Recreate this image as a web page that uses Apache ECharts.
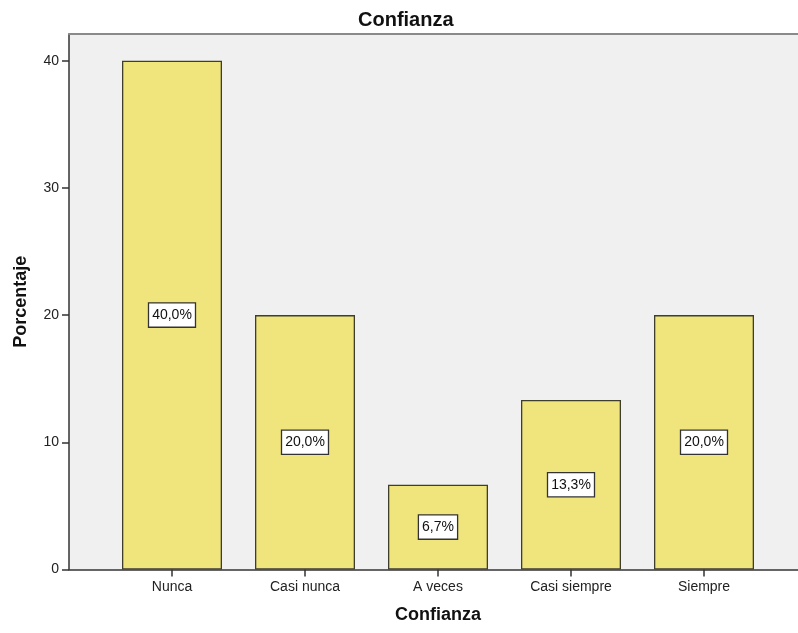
<!DOCTYPE html>
<html>
<head>
<meta charset="utf-8">
<script src="https://cdn.jsdelivr.net/npm/echarts@6/dist/echarts.min.js"></script>
<style>html,body{margin:0;padding:0;background:#fff}#c{width:798px;height:633px}</style>
</head>
<body>
<div id="c"></div>
<script>
const categories = ['Nunca', 'Casi nunca', 'A veces', 'Casi siempre', 'Siempre'];
const percentages = [40.0, 20.0, 6.67, 13.33, 20.0];
const yTicks = [0, 10, 20, 30, 40];
const chartTitle = 'Confianza';
const xName = 'Confianza';
const yName = 'Porcentaje';

const FONT = '"Liberation Sans", Arial, sans-serif';
const YMAX = 42.1;

const chart = echarts.init(document.getElementById('c'), null, {renderer: 'canvas'});
chart.setOption({
  animation: false,
  backgroundColor: '#ffffff',
  title: {
    text: chartTitle,
    left: 353, top: 5,
    textStyle: {fontFamily: FONT, fontSize: 20, fontWeight: 'bold', color: '#111'}
  },
  grid: [
    {left: 69, right: 0, top: 34, bottom: 63.5, show: true, backgroundColor: '#f0f0f0', borderWidth: 0},
    {left: 105.5, right: 27.5, top: 34, bottom: 63.5}
  ],
  xAxis: [
    {gridIndex: 0, type: 'value', min: 0, max: 1, position: 'bottom',
     axisLine: {show: true, lineStyle: {color: '#333', width: 1.5}},
     axisTick: {show: false}, axisLabel: {show: false}, splitLine: {show: false}},
    {gridIndex: 0, type: 'value', min: 0, max: 1, position: 'top',
     axisLine: {show: true, lineStyle: {color: '#8a8a8a', width: 2}},
     axisTick: {show: false}, axisLabel: {show: false}, splitLine: {show: false}},
    {gridIndex: 1, type: 'category', data: categories, position: 'bottom',
     axisLine: {show: false},
     axisTick: {show: true, alignWithLabel: true, length: 7, lineStyle: {color: '#333', width: 1.5}},
     axisLabel: {margin: 11, fontFamily: FONT, fontSize: 14, color: '#222'},
     name: xName, nameLocation: 'middle', nameGap: 37,
     nameTextStyle: {fontFamily: FONT, fontSize: 18, fontWeight: 'bold', color: '#111'}}
  ],
  yAxis: [
    {gridIndex: 0, type: 'value', min: 0, max: YMAX, interval: 10,
     axisLine: {show: true, lineStyle: {color: '#333', width: 1.5}},
     axisTick: {show: true, length: 7, customValues: yTicks, lineStyle: {color: '#333', width: 1.5}},
     axisLabel: {margin: 10, fontFamily: FONT, fontSize: 14, color: '#222', customValues: yTicks},
     splitLine: {show: false},
     name: yName, nameLocation: 'middle', nameGap: 39, nameRotate: 90,
     nameTextStyle: {fontFamily: FONT, fontSize: 18, fontWeight: 'bold', color: '#111'}},
    {gridIndex: 1, type: 'value', min: 0, max: YMAX, show: false}
  ],
  series: [{
    type: 'bar',
    xAxisIndex: 2, yAxisIndex: 1,
    data: percentages,
    barWidth: 100,
    itemStyle: {color: '#f0e47c', borderColor: '#3f3d2c', borderWidth: 1.3},
    label: {
      show: true, position: 'inside',
      formatter: p => p.value.toFixed(1).replace('.', ',') + '%',
      fontFamily: FONT, fontSize: 14, color: '#111', lineHeight: 16,
      backgroundColor: '#ffffff', borderColor: '#333', borderWidth: 1.3,
      padding: [4, 3, 3, 3]
    }
  }]
});
</script>
</body>
</html>
